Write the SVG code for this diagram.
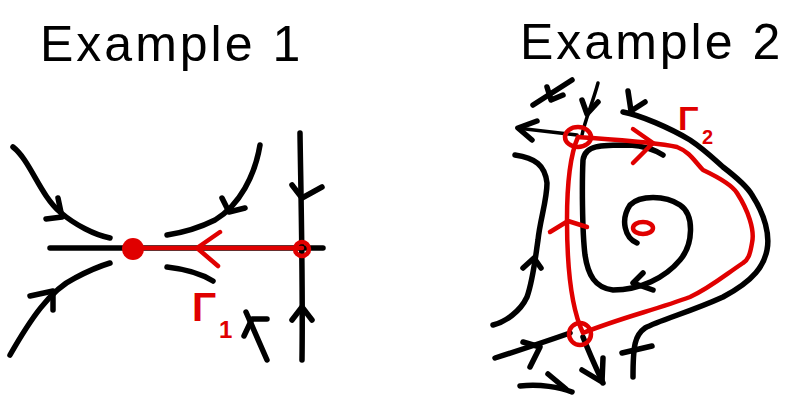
<svg xmlns="http://www.w3.org/2000/svg" width="792" height="398" viewBox="0 0 792 398">
<style>
.k{fill:none;stroke:#000;stroke-width:5.5;stroke-linecap:round;stroke-linejoin:round}
.kt{fill:none;stroke:#000;stroke-width:3.5;stroke-linecap:round;stroke-linejoin:round}
.r{fill:none;stroke:#e00000;stroke-width:4.5;stroke-linecap:round;stroke-linejoin:round}
.title{font-family:"Liberation Sans",Arial,sans-serif;font-size:50px;fill:#000;letter-spacing:3px}
.lab{font-family:"Liberation Sans",Arial,sans-serif;font-weight:bold;fill:#e00000}
</style>
<rect width="792" height="398" fill="#fff"/>
<g id="title1"><text class="title" x="40" y="61">Example 1</text></g>
<g id="title2"><text class="title" x="520" y="59">Example 2</text></g>

<g id="connectors">
  <!-- Example 1 -->
  <path class="k" d="M13,147 C30,160 40,195 60,212 C75,225 95,235 110,238"/>
  <path class="k" d="M58,198 L62,217 L46,219"/>
  <path class="k" d="M260,145 C255,175 240,205 215,220 C195,230 180,233 167,235"/>
  <path class="k" d="M222,198 L229,212 L245,208"/>
  <path class="k" d="M50,248 L323,248"/>
  <path class="k" d="M10,355 C30,320 50,290 75,278 C90,270 100,266 110,263"/>
  <path class="k" d="M30,296 L53,291 L53,310"/>
  <path class="k" d="M167,267 C185,269 200,273 213,281"/>
  <path class="k" d="M267,360 L246,312"/>
  <path class="k" d="M244,336 L252,319 L267,319"/>
  <path class="k" d="M300,133 C301,200 303,280 302,360"/>
  <path class="k" d="M292,185 L302,198 L322,187"/>
  <path class="k" d="M292,320 L302,307 L312,320"/>
  <path class="r" d="M133,248 L302,248"/>
  <path class="r" d="M220,232 L197,248 L218,266"/>

  <!-- Example 2 -->
  <path class="k" d="M623,112 C640,115 670,128 690,140 C705,150 715,160 723,167 C740,180 748,188 752,195 C765,215 770,235 767,250 C764,265 755,280 723,297 C690,312 660,320 645,328 C635,335 633,345 633,377"/>
  <path class="k" d="M628,91 L631,111 L645,102"/>
  <path class="k" d="M622,353 L652,346"/>
  <path class="k" d="M637,243 C625,238 620,220 630,205 C640,195 665,195 680,205 C695,215 693,245 680,260 C665,278 640,290 613,290 C595,288 588,275 585,255 C582,230 582,180 583,160 C585,145 600,145 630,145 C645,146 655,150 663,155"/>
  <path class="k" d="M643,273 L633,283 L653,290"/>
  <path class="k" d="M515,155 C535,158 545,165 547,183 C547,200 540,220 538,240 C535,260 533,280 527,297 C520,312 505,322 493,325"/>
  <path class="k" d="M523,268 L534,258 L541,268"/>
  <path class="kt" d="M517,128 L577,135"/>
  <path class="k" d="M537,121 L518,128 L532,140"/>
  <path class="kt" d="M598,83 C592,105 585,120 582,135"/>
  <path class="k" d="M582,100 L587,114 L598,102"/>
  <path class="k" d="M533,105 L572,80"/>
  <path class="k" d="M547,87 L551,100 L563,95"/>
  <path class="k" d="M495,358 C520,350 550,340 570,333"/>
  <path class="k" d="M523,342 L540,347 L530,367"/>
  <path class="k" d="M583,337 C590,355 597,370 603,383"/>
  <path class="k" d="M582,370 L602,382 L603,358"/>
  <path class="k" d="M520,386 C540,384 560,387 572,392"/>
  <path class="k" d="M548,374 L566,389"/>
  <path class="r" d="M578,137 C620,140 655,142 677,147 C690,152 695,162 703,170 C720,178 732,185 737,193 C748,210 755,230 752,243 C750,255 748,260 743,263 C725,275 710,288 690,297 C655,310 620,318 583,333 C572,310 567,270 567,220 C567,180 570,155 578,137"/>
  <path class="r" d="M633,129 L653,143 L633,163"/>
  <path class="r" d="M550,232 L568,221 L587,227"/>
</g>

<g id="node-saddle1"><circle cx="133" cy="249" r="11" fill="#e00000"/></g>
<g id="node-eq1"><circle cx="302" cy="249" r="7" class="r"/></g>
<g id="node-saddle2a"><ellipse cx="578" cy="137" rx="13" ry="10" class="r"/></g>
<g id="node-saddle2b"><circle cx="580" cy="334" r="11" class="r"/></g>
<g id="node-focus"><ellipse cx="643" cy="228" rx="10" ry="6" class="r"/></g>

<g id="label-gamma1"><text class="lab" x="192" y="321" font-size="40">Γ</text><text class="lab" x="219" y="338" font-size="24">1</text></g>
<g id="label-gamma2"><text class="lab" x="678" y="130" font-size="34">Γ</text><text class="lab" x="702" y="144" font-size="20">2</text></g>
</svg>
